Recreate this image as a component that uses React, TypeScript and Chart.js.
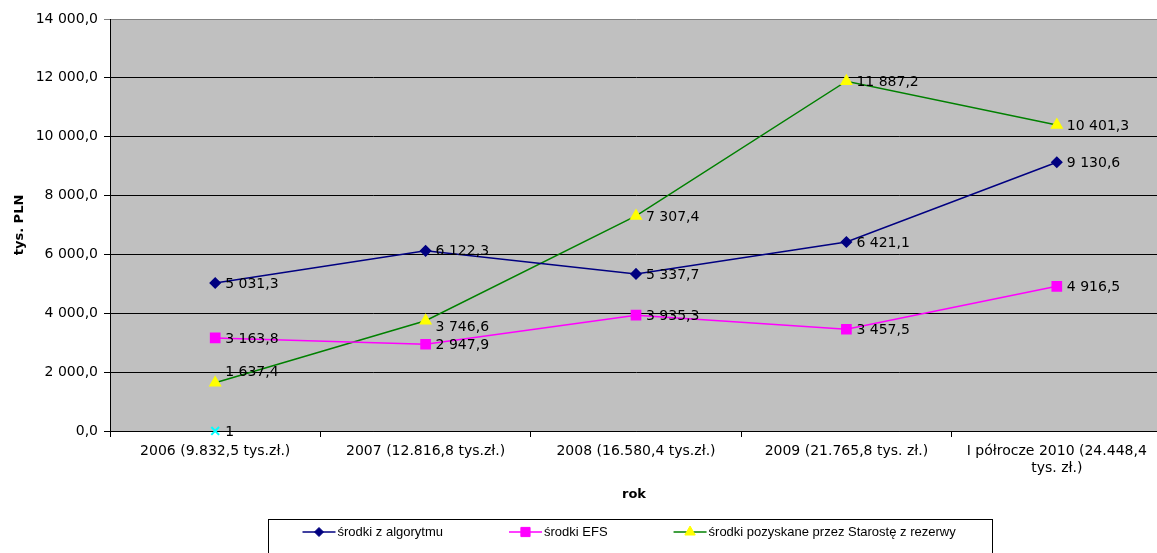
import React, { useEffect, useRef } from 'react';
import { Chart, registerables } from 'chart.js';
import { drawPoint } from 'chart.js/helpers';

Chart.register(...registerables);

// ---------- data ----------
const categories: (string | string[])[] = [
  '2006 (9.832,5 tys.zł.)',
  '2007 (12.816,8 tys.zł.)',
  '2008 (16.580,4 tys.zł.)',
  '2009 (21.765,8 tys. zł.)',
  ['I półrocze 2010 (24.448,4', 'tys. zł.)'],
];
const seriesNames = [
  'środki z algorytmu',
  'środki EFS',
  'środki pozyskane przez Starostę z rezerwy',
];
const algorytm = [5031.3, 6122.3, 5337.7, 6421.1, 9130.6];
const efs = [3163.8, 2947.9, 3935.3, 3457.5, 4916.5];
const starosta = [1637.4, 3746.6, 7307.4, 11887.2, 10401.3];
const extraSeries: (number | null)[] = [1, null, null, null, null];
const yMin = 0;
const yMax = 14000;
const yStep = 2000;
const yAxisTitle = 'tys. PLN';
const xAxisTitle = 'rok';

// ---------- style ----------
const FONT = '"DejaVu Sans", sans-serif';
const LEGEND_FONT = '"Liberation Sans", Arial, sans-serif';
const labelNudge = [
  [0, 0, 0, 0, 0],
  [0, 0, 0, 0, 0],
  [-11, 6, 0, 0, 0],
  [0, 0, 0, 0, 0],
];
const labelDecimals = [1, 1, 1, 0];

function fmt(v: number, dec: number): string {
  const s = v.toFixed(dec);
  const [i, d] = s.split('.');
  const ii = i.replace(/\B(?=(\d{3})+(?!\d))/g, ' ');
  return d !== undefined ? ii + ',' + d : ii;
}

const CW = 1175;
const CH = 560;

const chartPlugin = {
  id: 'customDecor',
  beforeDraw(chart: any) {
    const { ctx, chartArea: a } = chart;
    ctx.save();
    ctx.fillStyle = '#C0C0C0';
    ctx.fillRect(a.left, a.top, a.right - a.left, a.bottom - a.top);
    ctx.restore();
  },
  afterDatasetsDraw(chart: any) {
    const { ctx } = chart;
    ctx.save();
    ctx.fillStyle = '#000';
    ctx.font = `14px ${FONT}`;
    ctx.textAlign = 'left';
    ctx.textBaseline = 'middle';
    chart.data.datasets.forEach((ds: any, di: number) => {
      const meta = chart.getDatasetMeta(di);
      meta.data.forEach((pt: any, i: number) => {
        const v = ds.data[i];
        if (v === null || v === undefined) return;
        const dy = (labelNudge[di] && labelNudge[di][i]) || 0;
        ctx.fillText(fmt(v, labelDecimals[di]), pt.x + 10, pt.y + dy + 1);
      });
    });
    ctx.restore();
  },
  afterDraw(chart: any) {
    const { ctx, chartArea: a } = chart;
    ctx.save();
    ctx.fillStyle = '#000';
    ctx.font = `bold 13px ${FONT}`;
    ctx.textAlign = 'center';
    ctx.textBaseline = 'middle';
    ctx.fillText(xAxisTitle, (a.left + a.right) / 2 - 2, 495);
    ctx.save();
    ctx.translate(20, (a.top + a.bottom) / 2);
    ctx.rotate(-Math.PI / 2);
    ctx.fillText(yAxisTitle, 0, 0);
    ctx.restore();

    // legend
    const boxW = 724;
    const cx = (a.left + a.right) / 2 - 6;
    const bx = Math.round(cx - boxW / 2) + 0.5;
    const by = 519.5;
    ctx.strokeStyle = '#000';
    ctx.lineWidth = 1;
    ctx.strokeRect(bx, by, boxW, 60);
    ctx.font = `13px ${LEGEND_FONT}`;
    ctx.textAlign = 'left';
    ctx.textBaseline = 'middle';
    let x = bx + 34;
    const y = 532;
    seriesNames.forEach((name, di) => {
      const ds: any = chart.data.datasets[di];
      ctx.strokeStyle = ds.borderColor;
      ctx.lineWidth = 1.5;
      ctx.beginPath();
      ctx.moveTo(x, y);
      ctx.lineTo(x + 33, y);
      ctx.stroke();
      ctx.fillStyle = ds.pointBackgroundColor;
      ctx.strokeStyle = ds.pointBorderColor;
      ctx.lineWidth = 1;
      drawPoint(ctx, { pointStyle: ds.pointStyle, radius: ds.legendRadius, rotation: 0, borderWidth: 1 }, x + 16.5, y);
      ctx.fillStyle = '#000';
      ctx.fillText(name, x + 35, y);
      x += 35 + ctx.measureText(name).width + 66;
    });
    ctx.restore();
  },
};

export default function App() {
  const ref = useRef<HTMLCanvasElement | null>(null);
  useEffect(() => {
    if (!ref.current) return;
    const chart = new Chart(ref.current, {
      type: 'line',
      data: {
        labels: categories,
        datasets: [
          {
            label: seriesNames[0],
            data: algorytm,
            borderColor: '#000080',
            backgroundColor: '#000080',
            pointBackgroundColor: '#000080',
            pointBorderColor: '#000080',
            pointStyle: 'rectRot',
            pointRadius: 5,
            borderWidth: 1.5,
            tension: 0,
            legendRadius: 4.5,
          } as any,
          {
            label: seriesNames[1],
            data: efs,
            borderColor: '#FF00FF',
            backgroundColor: '#FF00FF',
            pointBackgroundColor: '#FF00FF',
            pointBorderColor: '#FF00FF',
            pointStyle: 'rect',
            pointRadius: 6.5,
            borderWidth: 1.5,
            tension: 0,
            legendRadius: 6.5,
          } as any,
          {
            label: seriesNames[2],
            data: starosta,
            borderColor: '#008000',
            backgroundColor: '#FFFF00',
            pointBackgroundColor: '#FFFF00',
            pointBorderColor: '#FFFF00',
            pointStyle: 'triangle',
            pointRadius: 6,
            borderWidth: 1.5,
            tension: 0,
            legendRadius: 6,
          } as any,
          {
            label: '',
            data: extraSeries,
            borderColor: '#00FFFF',
            backgroundColor: '#00FFFF',
            pointBackgroundColor: '#00FFFF',
            pointBorderColor: '#00FFFF',
            pointStyle: 'crossRot',
            pointRadius: 5.5,
            pointBorderWidth: 2,
            showLine: false,
            clip: false,
          } as any,
        ],
      },
      options: {
        responsive: false,
        animation: false,
        devicePixelRatio: 1,
        layout: { padding: { left: 0, top: 19, right: CW - 1162, bottom: 0 } },
        plugins: {
          legend: { display: false },
          tooltip: { enabled: false },
        },
        scales: {
          x: {
            offset: true,
            grid: {
              offset: true,
              drawOnChartArea: false,
              drawTicks: true,
              tickLength: 6,
              color: '#000',
            },
            border: { display: true, color: '#000', width: 1 },
            ticks: {
              color: '#000',
              font: { family: FONT, size: 14 },
              padding: 6,
              maxRotation: 0,
              minRotation: 0,
              autoSkip: false,
            },
            afterFit(scale: any) {
              scale.height = CH - 431;
              scale.paddingLeft = 0;
              scale.paddingRight = 0;
            },
          },
          y: {
            min: yMin,
            max: yMax,
            grid: {
              color: (c: any) => (c.tick && c.tick.value === yMax ? '#808080' : '#000'),
              lineWidth: 1,
              drawTicks: true,
              tickLength: 6,
            },
            border: { display: true, color: '#000', width: 1 },
            ticks: {
              stepSize: yStep,
              color: '#000',
              font: { family: FONT, size: 14 },
              padding: 6,
              callback: (v: any) => fmt(Number(v), 1),
            },
            afterFit(scale: any) {
              scale.width = 110;
              scale.paddingTop = 0;
              scale.paddingBottom = 0;
            },
          },
        },
      },
      plugins: [chartPlugin],
    });
    return () => chart.destroy();
  }, []);

  return (
    <div
      style={{
        position: 'fixed',
        left: 0,
        top: 0,
        width: 1157,
        height: 553,
        overflow: 'hidden',
        background: '#fff',
      }}
    >
      <canvas ref={ref} width={CW} height={CH} style={{ display: 'block', width: CW, height: CH }} />
    </div>
  );
}
